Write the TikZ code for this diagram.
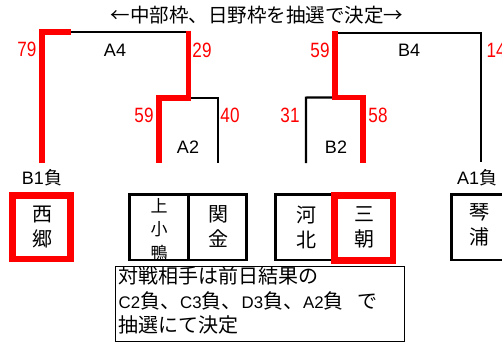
\documentclass[tikz,border=0pt]{standalone}
\usepackage{fontspec}
\setmainfont{Noto Sans CJK JP}
\newfontfamily\lat{Liberation Sans}
\definecolor{myred}{RGB}{255,0,0}
\newcommand\tallnum[1]{\scalebox{0.95}[1.15]{#1}}
\newcommand\nlat[1]{{\lat\fontsize{16.8}{24}\selectfont #1}}
\begin{document}
\begin{tikzpicture}[x=1pt,y=-1pt,
  blk/.style={line width=2.2pt,black,line join=miter},
  redl/.style={line width=5.8pt,myred,line join=miter},
  num/.style={text=myred,inner sep=0pt,font=\lat\fontsize{18}{18}\selectfont},
  lbl/.style={inner sep=0pt,font=\lat\fontsize{18}{18}\selectfont},
  bx/.style={draw=black,line width=2.7pt},
  rbx/.style={draw=myred,line width=6.5pt},
  cj/.style={inner sep=0pt,align=center,font=\fontsize{20}{25}\selectfont},
  nt/.style={inner sep=0pt,anchor=west,font=\fontsize{20}{24}\selectfont}]
\useasboundingbox (0,0) rectangle (502,343);
\fill[white] (0,0) rectangle (502,343);
% coordinates of brackets
\coordinate (la) at (42,163);
\coordinate (lb) at (42,32.3);
\coordinate (lc) at (71,32.3);
\coordinate (ld) at (188.5,32.3);
\coordinate (ldt) at (188.5,30.5);
\coordinate (le) at (188.5,97.6);
\coordinate (lf) at (159,97.6);
\coordinate (lg) at (159,163);
\coordinate (lh) at (218,97.6);
\coordinate (li) at (218,163);
\coordinate (ra) at (335,31.0);
\coordinate (rb) at (335,32.8);
\coordinate (rc) at (481,32.8);
\coordinate (rd) at (481,162);
\coordinate (re) at (335,97.4);
\coordinate (rf) at (363,97.4);
\coordinate (rg) at (363,163);
\coordinate (rh) at (306,163);
\coordinate (ri) at (306,97.6);
% black lines
\draw[blk] (lc) -- (ld);
\draw[blk] (lf) -- (lh) -- (li);
\draw[blk] (rb) -- (rc) -- (rd);
\draw[blk] (rh) -- (ri) -- (re);
% red lines
\draw[redl] (la) -- (lb) -- (lc);
\draw[redl] (ldt) -- (le) -- (lf) -- (lg);
\draw[redl] (ra) -- (re) -- (rf) -- (rg);
% title
\node[inner sep=0pt,font=\fontsize{19.5}{20}\selectfont] (title) at (257,15) {←中部枠、日野枠を抽選で決定→};
% labels
\node[num] (n79) at (27,49) {\tallnum{79}};
\node[lbl] (a4) at (115,50) {A4};
\node[num] (n29) at (202,50) {\tallnum{29}};
\node[num] (n59a) at (144,115) {\tallnum{59}};
\node[num] (n40) at (230,115) {\tallnum{40}};
\node[lbl] (a2) at (188,147) {A2};
\node[num] (n59b) at (320,50) {\tallnum{59}};
\node[lbl] (b4) at (409,50) {B4};
\node[num,anchor=west] (n14) at (486.5,50) {\tallnum{14}};
\node[num] (n31) at (290,115) {\tallnum{31}};
\node[num] (n58) at (378,115) {\tallnum{58}};
\node[lbl] (b2) at (336,147) {B2};
\node[inner sep=0pt,font=\fontsize{18}{18}\selectfont] (b1m) at (42,178) {{\lat B1}負};
\node[inner sep=0pt,anchor=west,font=\fontsize{18}{18}\selectfont] (a1m) at (457,177.5) {{\lat A1}負};
% team boxes
\draw[bx] (129.7,194.7) rectangle (188.5,260);
\draw[bx] (188.5,194.7) rectangle (246.3,260);
\draw[bx] (275.3,194.7) rectangle (334.5,260);
\draw[bx] (451.3,194.7) rectangle (520,260);
\draw[rbx] (12.7,195.5) rectangle (70.5,259);
\draw[rbx] (334.5,195.5) rectangle (393,260.5);
\node[cj] (saigo) at (42,227.5) {西\\郷};
\node[cj,font=\fontsize{17}{23.5}\selectfont] (kamiko) at (159,229.5) {上\\小\\鴨};
\node[cj] (sekigane) at (218,227) {関\\金};
\node[cj] (hokuei) at (306,227.5) {河\\北};
\node[cj] (misasa) at (364,227.5) {三\\朝};
\node[cj] (kotoura) at (479,225) {琴\\浦};
% note
\draw[black,line width=1.5pt] (115.7,266.7) rectangle (404.3,341.5);
\node[nt] (l1) at (118.5,276) {対戦相手は前日結果の};
\node[nt] (l2) at (118.5,301) {\nlat{C2}負、\nlat{C3}負、\nlat{D3}負、\nlat{A2}負\hspace{14pt}で};
\node[nt] (l3) at (118.5,325) {抽選にて決定};
\end{tikzpicture}
\end{document}
